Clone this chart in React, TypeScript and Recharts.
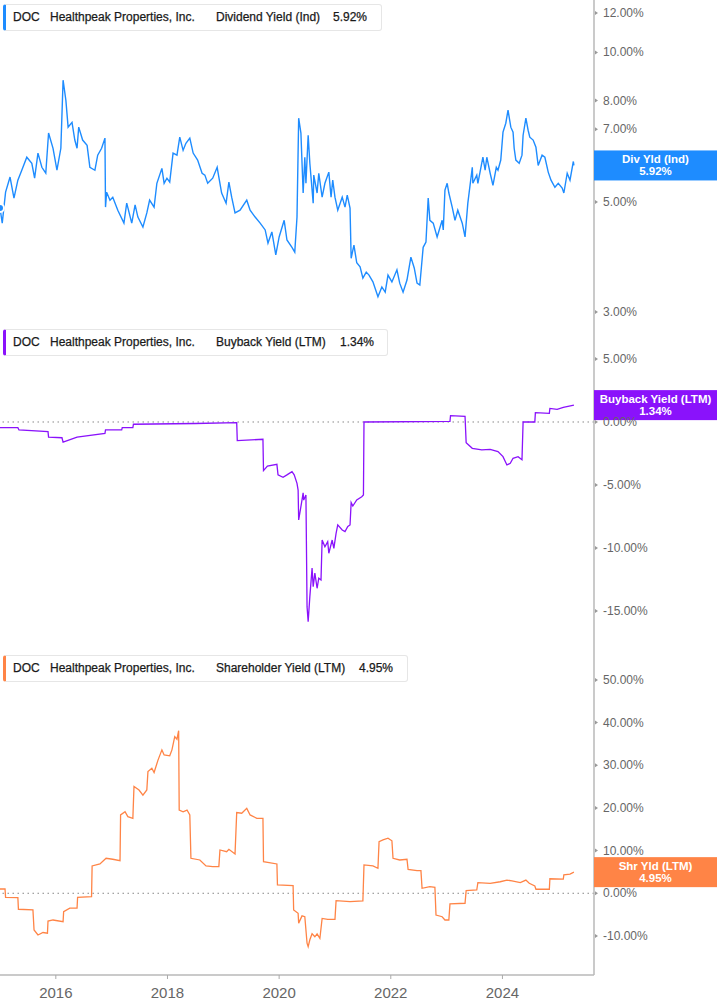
import React from "react";
import { LineChart, Line, XAxis, YAxis, ReferenceLine, ReferenceDot } from "recharts";

// ---- data (decimal years) ----
const divDates = [2015.00,2015.04,2015.10,2015.18,2015.25,2015.32,2015.39,2015.48,2015.57,2015.62,2015.68,2015.75,2015.82,2015.87,2015.95,2016.02,2016.09,2016.13,2016.18,2016.22,2016.29,2016.34,2016.38,2016.41,2016.48,2016.56,2016.61,2016.70,2016.75,2016.82,2016.88,2016.89,2016.91,2016.97,2017.02,2017.11,2017.22,2017.27,2017.36,2017.42,2017.47,2017.56,2017.63,2017.68,2017.76,2017.81,2017.90,2017.94,2017.99,2018.04,2018.10,2018.17,2018.22,2018.28,2018.33,2018.40,2018.46,2018.54,2018.62,2018.67,2018.72,2018.81,2018.89,2018.92,2018.97,2019.05,2019.10,2019.15,2019.21,2019.30,2019.42,2019.48,2019.57,2019.66,2019.75,2019.80,2019.87,2019.94,2020.00,2020.09,2020.14,2020.23,2020.28,2020.32,2020.35,2020.39,2020.43,2020.46,2020.48,2020.52,2020.55,2020.61,2020.62,2020.68,2020.71,2020.77,2020.82,2020.89,2020.93,2020.96,2021.00,2021.05,2021.13,2021.18,2021.22,2021.27,2021.29,2021.34,2021.39,2021.45,2021.50,2021.56,2021.61,2021.68,2021.77,2021.84,2021.90,2021.95,2022.02,2022.11,2022.16,2022.22,2022.29,2022.36,2022.42,2022.47,2022.52,2022.58,2022.63,2022.67,2022.70,2022.76,2022.83,2022.92,2022.94,2022.97,2023.01,2023.04,2023.10,2023.15,2023.20,2023.28,2023.33,2023.38,2023.46,2023.47,2023.54,2023.56,2023.65,2023.69,2023.72,2023.78,2023.83,2023.89,2023.92,2023.97,2024.01,2024.06,2024.10,2024.15,2024.19,2024.21,2024.24,2024.30,2024.35,2024.37,2024.42,2024.46,2024.49,2024.55,2024.60,2024.64,2024.71,2024.76,2024.82,2024.87,2024.94,2025.00,2025.07,2025.10,2025.16,2025.21,2025.27,2025.28];
const divValues = [4.86,4.53,5.23,5.61,5.09,5.53,5.79,6.15,5.98,5.58,6.27,5.87,5.71,6.88,6.41,5.79,6.41,8.79,8.01,7.07,7.23,6.66,6.41,7.07,6.66,6.50,5.87,5.79,6.21,6.41,6.72,4.88,5.23,5.04,5.11,4.81,4.53,4.97,4.53,4.93,4.66,4.45,4.75,5.04,4.88,5.45,5.84,5.45,5.58,5.48,6.27,6.21,6.75,6.35,6.56,6.72,6.27,6.07,5.71,5.66,5.45,5.58,5.87,5.61,5.21,4.97,5.48,5.11,4.75,4.81,5.04,4.81,4.66,4.53,4.39,4.13,4.35,3.91,4.25,4.59,4.19,4.05,3.96,4.66,7.37,6.88,5.21,6.15,5.45,6.81,5.98,4.97,5.66,5.21,5.71,5.11,5.45,5.74,5.11,5.53,5.11,4.81,5.11,4.88,5.16,4.86,3.85,4.09,3.77,3.70,3.51,3.61,3.56,3.45,3.22,3.37,3.29,3.56,3.45,3.65,3.43,3.29,3.48,3.87,3.68,3.43,3.40,4.05,4.15,5.09,4.59,4.53,4.25,4.59,4.39,5.28,5.45,5.21,4.88,4.59,4.81,4.53,4.25,4.97,5.87,5.45,5.66,5.45,6.15,5.79,6.15,5.71,5.40,5.87,5.79,6.07,6.91,7.20,7.65,7.07,6.91,6.41,6.07,5.98,6.21,6.81,7.37,6.97,6.75,6.66,6.44,5.92,6.21,6.15,5.74,5.53,5.35,5.45,5.33,5.21,5.71,5.53,6.03,5.92];

const buyDates = [2015.00,2015.32,2015.34,2015.86,2015.87,2016.11,2016.13,2016.38,2016.88,2016.89,2017.18,2017.19,2017.38,2017.39,2018.50,2019.24,2019.25,2019.71,2019.72,2019.79,2019.96,2019.98,2020.07,2020.14,2020.23,2020.27,2020.32,2020.34,2020.35,2020.41,2020.43,2020.44,2020.48,2020.50,2020.52,2020.55,2020.59,2020.61,2020.64,2020.68,2020.71,2020.75,2020.77,2020.82,2020.87,2020.89,2020.95,2020.98,2021.02,2021.05,2021.13,2021.18,2021.23,2021.27,2021.29,2021.32,2021.39,2021.48,2021.51,2021.52,2023.06,2023.07,2023.33,2023.35,2023.46,2023.63,2023.78,2023.92,2024.01,2024.08,2024.14,2024.19,2024.28,2024.35,2024.37,2024.58,2024.59,2024.84,2024.85,2024.98,2025.09,2025.28];
const buyValues = [-0.45,-0.45,-0.63,-0.77,-1.2,-1.25,-1.6,-1.2,-0.9,-0.63,-0.63,-0.45,-0.45,-0.18,-0.12,-0.05,-1.48,-1.37,-3.86,-3.5,-3.36,-4.2,-4.39,-4.2,-3.94,-4.2,-4.87,-5.4,-7.78,-6.19,-5.63,-6.2,-5.79,-14.66,-15.85,-13.86,-11.6,-13.07,-12.0,-13.2,-12.4,-12.54,-9.37,-9.9,-9.5,-10.42,-9.37,-10.03,-8.84,-8.17,-8.57,-8.7,-8.3,-8.17,-6.4,-6.67,-6.19,-5.93,-5.79,0.0,0.05,0.5,0.45,-1.64,-2.09,-2.22,-2.17,-2.35,-2.75,-3.41,-3.28,-2.88,-2.75,-3.0,0.0,0.0,0.74,0.69,1.08,1.0,1.16,1.34];

const shrDates = [2015.00,2015.09,2015.10,2015.32,2015.33,2015.59,2015.61,2015.68,2015.77,2015.85,2015.86,2015.95,2016.13,2016.14,2016.25,2016.38,2016.39,2016.64,2016.65,2016.79,2016.90,2017.02,2017.15,2017.16,2017.24,2017.29,2017.38,2017.40,2017.49,2017.56,2017.63,2017.65,2017.72,2017.76,2017.83,2017.90,2017.94,2018.04,2018.08,2018.13,2018.17,2018.20,2018.21,2018.28,2018.35,2018.40,2018.42,2018.58,2018.69,2018.81,2018.92,2018.94,2019.06,2019.10,2019.21,2019.24,2019.33,2019.42,2019.48,2019.60,2019.71,2019.72,2019.96,2019.97,2020.25,2020.26,2020.34,2020.35,2020.41,2020.46,2020.50,2020.52,2020.55,2020.59,2020.64,2020.68,2020.73,2020.77,2020.87,2021.00,2021.02,2021.27,2021.50,2021.52,2021.68,2021.77,2021.79,2021.86,2021.95,2022.02,2022.04,2022.16,2022.29,2022.31,2022.47,2022.54,2022.56,2022.70,2022.79,2022.81,2022.92,2022.97,2023.04,2023.06,2023.33,2023.35,2023.54,2023.56,2023.78,2023.96,2024.08,2024.17,2024.32,2024.42,2024.48,2024.58,2024.60,2024.84,2024.85,2025.09,2025.10,2025.21,2025.28];
const shrValues = [1.0,1.0,-0.94,-1.0,-3.75,-3.9,-8.6,-9.77,-9.2,-9.37,-6.5,-6.26,-6.65,-4.3,-3.5,-3.5,-0.94,-0.8,6.4,6.87,8.2,7.97,7.64,18.35,19.1,17.95,17.57,25.0,24.2,23.0,24.2,28.5,29.3,28.3,31.2,33.6,32.4,32.2,33.6,36.7,36.1,38.1,19.5,19.1,19.5,18.35,8.2,7.8,6.4,6.24,6.24,10.15,9.75,10.3,9.2,18.9,18.75,19.9,18.35,17.57,17.57,7.4,6.87,1.95,1.8,-3.9,-4.7,-7.0,-5.3,-5.5,-11.7,-12.5,-10.9,-9.5,-10.2,-9.5,-10.55,-5.9,-6.1,-6.1,-1.73,-1.96,-1.8,6.63,6.4,5.86,12.1,12.5,12.9,12.3,8.2,7.8,7.97,5.6,5.3,5.3,1.17,1.55,1.4,-5.1,-5.5,-6.26,-6.26,-2.5,-2.34,0.6,0.77,2.5,2.34,2.7,3.1,2.9,2.5,3.1,2.34,1.7,0.94,0.94,3.4,3.3,4.3,4.5,4.95];

const yearTicks = [2016, 2018, 2020, 2022, 2024];
const divTicks = [3, 5, 7, 8, 10, 12];
const buyTicks = [-15, -10, -5, 0, 5];
const shrTicks = [-10, 0, 10, 20, 30, 40, 50];

const X_DOMAIN: [number, number] = [2015.0, 2025.64];
const BLUE = "#1e8cff";
const PURPLE = "#8a12fb";
const ORANGE = "#ff8446";
const AXIS = "#b8b8b8";

const mk = (d: number[], v: number[]) => d.map((t, i) => ({ t, v: v[i] }));
const divData = mk(divDates, divValues);
const buyData = mk(buyDates, buyValues);
const shrData = mk(shrDates, shrValues);

const YTick = (props: any) => {
  const { x, y, payload } = props;
  return (
    <g>
      <path d={`M${x + 1},${y - 2} L${x + 4},${y} L${x + 1},${y + 2} Z`} fill="#999" />
      <text x={x + 9} y={y} dominantBaseline="central" fontSize={12} fill="#666" fontFamily="Liberation Sans, Arial, sans-serif">
        {Number(payload.value).toFixed(2)}%
      </text>
    </g>
  );
};

const XTick = (props: any) => {
  const { x, y, payload } = props;
  return (
    <g>
      <line x1={x} y1={y} x2={x} y2={y + 4} stroke="#aaa" strokeWidth={1} />
      <text x={x} y={y + 17} textAnchor="middle" dominantBaseline="central" fontSize={15} fill="#666" fontFamily="Liberation Sans Narrow, Arial Narrow, sans-serif">
        {payload.value}
      </text>
    </g>
  );
};

const valueTag = (color: string, l1: string, l2: string) => (p: any) => (
  <g>
    <rect x={p.cx} y={p.cy - 15} width={123} height={30} fill={color} />
    <text x={p.cx + 61.5} y={p.cy - 6} textAnchor="middle" dominantBaseline="central" fontSize={11.5} fill="#fff" fontFamily="Liberation Sans, Arial, sans-serif" fontWeight={600}>{l1}</text>
    <text x={p.cx + 61.5} y={p.cy + 6} textAnchor="middle" dominantBaseline="central" fontSize={11.5} fill="#fff" fontFamily="Liberation Sans, Arial, sans-serif" fontWeight={600}>{l2}</text>
  </g>
);

const Header = ({ top, width, color, metric, value, valueLeft }: any) => (
  <div style={{ position: "absolute", left: 3, top, width, height: 27, background: "#fff", border: "1px solid #e6e6e6", borderLeft: `3px solid ${color}`, borderRadius: 3, boxSizing: "border-box", fontFamily: "Liberation Sans, Arial, sans-serif", fontSize: 12, color: "#1a1a1a", WebkitTextStroke: "0.25px #1a1a1a" } as any}>
    <span style={{ position: "absolute", left: 7, top: 5 }}>DOC</span>
    <span style={{ position: "absolute", left: 44, top: 5 }}>Healthpeak Properties, Inc.</span>
    <span style={{ position: "absolute", left: 210, top: 5 }}>{metric}</span>
    <span style={{ position: "absolute", left: valueLeft - 6, top: 5 }}>{value}</span>
  </div>
);

export default function App() {
  const W = 717;
  return (
    <div style={{ position: "absolute", left: 0, top: 0, width: W, height: 1005, background: "#fff" }}>
      <div style={{ position: "absolute", left: 0, top: 0 }}>
        <LineChart width={W} height={327} data={divData} margin={{ top: 0, right: 0, bottom: 2, left: 0 }}>
          <XAxis type="number" dataKey="t" domain={X_DOMAIN} allowDataOverflow ticks={yearTicks} tick={false} tickLine={false} height={0} axisLine={{ stroke: "#cfcfcf", strokeWidth: 1 }} />
          <YAxis orientation="right" width={123} scale="log" type="number" domain={[2.825, 12.75]} allowDataOverflow ticks={divTicks} tick={<YTick />} tickLine={false} tickSize={0} tickMargin={0} axisLine={{ stroke: AXIS, strokeWidth: 1.5 }} interval={0} />
          <Line type="linear" dataKey="v" stroke={BLUE} strokeWidth={1.4} dot={false} isAnimationActive={false} />
          <ReferenceDot x={X_DOMAIN[1]} y={divValues[divValues.length - 1]} r={0} ifOverflow="visible" shape={valueTag(BLUE, "Div Yld (Ind)", "5.92%")} />
        </LineChart>
      </div>
      <div style={{ position: "absolute", left: 0, top: 325 }}>
        <LineChart width={W} height={327} data={buyData} margin={{ top: 0, right: 0, bottom: 2, left: 0 }}>
          <XAxis type="number" dataKey="t" domain={X_DOMAIN} allowDataOverflow ticks={yearTicks} tick={false} tickLine={false} height={0} axisLine={{ stroke: "#cfcfcf", strokeWidth: 1 }} />
          <YAxis orientation="right" width={123} type="number" domain={[-18.1, 7.7]} allowDataOverflow ticks={buyTicks} tick={<YTick />} tickLine={false} tickSize={0} tickMargin={0} axisLine={{ stroke: AXIS, strokeWidth: 1.5 }} interval={0} />
          <ReferenceLine y={0} stroke="#888" strokeDasharray="1.5 3.5" />
          <Line type="linear" dataKey="v" stroke={PURPLE} strokeWidth={1.3} dot={false} isAnimationActive={false} />
          <ReferenceDot x={X_DOMAIN[1]} y={buyValues[buyValues.length - 1]} r={0} ifOverflow="visible" shape={valueTag(PURPLE, "Buyback Yield (LTM)", "1.34%")} />
        </LineChart>
      </div>
      <div style={{ position: "absolute", left: 0, top: 650 }}>
        <LineChart width={W} height={355} data={shrData} margin={{ top: 0, right: 0, bottom: 0, left: 0 }}>
          <XAxis type="number" dataKey="t" domain={X_DOMAIN} allowDataOverflow ticks={yearTicks} tick={<XTick />} tickLine={false} tickSize={0} tickMargin={0} height={30} axisLine={{ stroke: AXIS, strokeWidth: 1.5 }} interval={0} />
          <YAxis orientation="right" width={123} type="number" domain={[-19.15, 57.0]} allowDataOverflow ticks={shrTicks} tick={<YTick />} tickLine={false} tickSize={0} tickMargin={0} axisLine={{ stroke: AXIS, strokeWidth: 1.5 }} interval={0} />
          <ReferenceLine y={0} stroke="#888" strokeDasharray="1.5 3.5" />
          <Line type="linear" dataKey="v" stroke={ORANGE} strokeWidth={1.3} dot={false} isAnimationActive={false} />
          <ReferenceDot x={X_DOMAIN[1]} y={shrValues[shrValues.length - 1]} r={0} ifOverflow="visible" shape={valueTag(ORANGE, "Shr Yld (LTM)", "4.95%")} />
        </LineChart>
      </div>
      <Header top={4} width={379} color={BLUE} metric="Dividend Yield (Ind)" value="5.92%" valueLeft={333} />
      <Header top={329} width={385} color={PURPLE} metric="Buyback Yield (LTM)" value="1.34%" valueLeft={340} />
      <Header top={655} width={405} color={ORANGE} metric="Shareholder Yield (LTM)" value="4.95%" valueLeft={359} />
    </div>
  );
}
